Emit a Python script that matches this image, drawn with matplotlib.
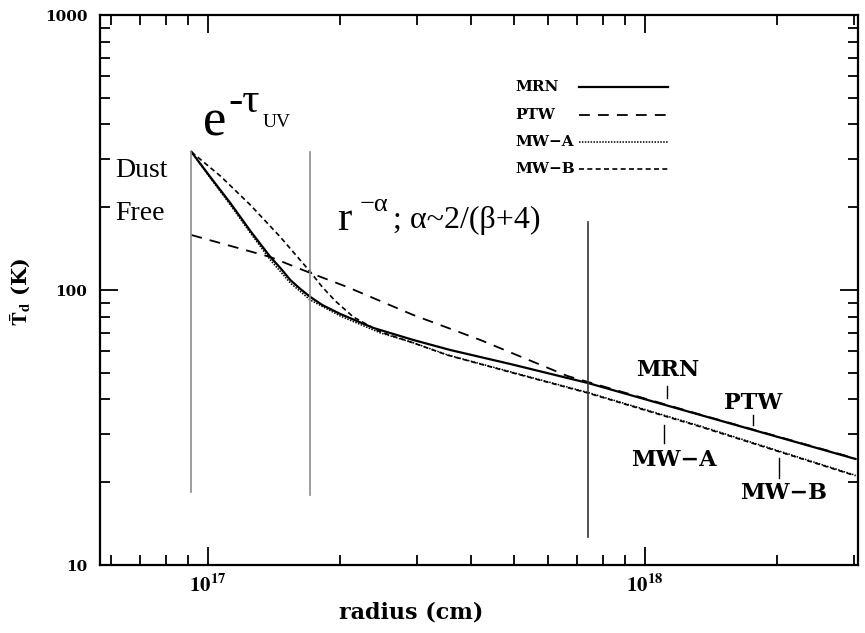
import numpy as np
import matplotlib
matplotlib.use("Agg")
import matplotlib.pyplot as plt
from matplotlib.ticker import LogLocator, NullFormatter, FixedLocator, FixedFormatter

plt.rcParams['mathtext.fontset'] = 'stix'
plt.rcParams['font.family'] = 'DejaVu Serif'

### curves (radius in cm, temperature in K)
r_mrn = [9.16e16, 1.012e17, 1.125e17, 1.25e17, 1.389e17, 1.464e17, 1.543e17, 1.627e17,
         1.715e17, 1.826e17, 2.008e17, 2.389e17, 2.95e17, 3.585e17, 4.92e17,
         7.40e17, 1.34e18, 3.03e18]
t_mrn = [318, 257.6, 207, 163.9, 131.8, 120.2, 108.7, 100.8,
         94.3, 88.2, 81.8, 72.8, 65.8, 60.5, 53.8,
         45.9, 35.1, 24.3]

r_ptw = [9.16e16, 1.389e17, 1.715e17, 2.084e17, 2.95e17, 4.20e17, 6.64e17,
         7.40e17, 1.34e18, 3.03e18]
t_ptw = [158.5, 131.8, 115.3, 102.5, 81.1, 65.8, 48.7, 46.3, 35.2, 24.4]

r_mwa = [9.16e16, 1.012e17, 1.125e17, 1.25e17, 1.389e17, 1.543e17, 1.715e17,
         2.008e17, 2.48e17, 2.95e17, 3.528e17, 4.995e17, 7.40e17, 1.34e18, 3.03e18]
t_mwa = [318, 255.5, 203.7, 161.2, 128.5, 106.0, 91.9,
         80.4, 69.8, 64.3, 58.1, 50.1, 42.4, 32.0, 21.2]

r_mwb = [9.16e16, 1.067e17, 1.25e17, 1.464e17, 1.715e17, 1.826e17, 1.956e17, 2.15e17,
         2.48e17, 2.95e17, 3.528e17, 4.995e17, 7.40e17, 1.34e18, 3.03e18]
t_mwb = [318, 259.8, 203.8, 155.8, 116.3, 102.5, 91.2, 79.8,
         70.4, 64.2, 58.0, 49.9, 42.2, 31.8, 21.1]

# region boundaries
bound_r = [9.16e16, 1.715e17, 7.41e17]
bound_lo = [18.4, 18.0, 12.6]
bound_hi = [318, 318, 177]
bound_col = ['0.55', '0.55', '0.2']

# curve labels at the right: name, text pos, pointer x, pointer y0, y1
lab_names = ['MRN', 'PTW', 'MW\u2212A', 'MW\u2212B']
lab_x = [1.125e18, 1.77e18, 1.162e18, 2.07e18]
lab_y = [51.2, 38.8, 24.1, 18.3]
ptr_x = [1.125e18, 1.77e18, 1.102e18, 2.02e18]
ptr_y0 = [44.8, 35.1, 32.3, 24.5]
ptr_y1 = [40.4, 32.3, 27.8, 20.7]

fig = plt.figure(figsize=(8.65, 6.33), dpi=100)
ax = fig.add_axes([0.1156, 0.1074, 0.8763, 0.8689])

styles = [
    ('MRN', r_mrn, t_mrn, dict(lw=1.6, ls='-')),
    ('PTW', r_ptw, t_ptw, dict(lw=1.3, dashes=(6, 4.5))),
    ('MW\u2212A', r_mwa, t_mwa, dict(lw=1.1, dashes=(1, 0.9))),
    ('MW\u2212B', r_mwb, t_mwb, dict(lw=1.2, dashes=(3, 2))),
]
for name, r, t, kw in styles:
    ax.plot(r, t, color='black', **kw)

for x, lo, hi, c in zip(bound_r, bound_lo, bound_hi, bound_col):
    ax.plot([x, x], [lo, hi], color=c, lw=1.2)

ax.set_xscale('log')
ax.set_yscale('log')
ax.set_xlim(5.66e16, 3.07e18)
ax.set_ylim(10, 1000)

ax.xaxis.set_major_locator(FixedLocator([1e17, 1e18]))
ax.xaxis.set_major_formatter(FixedFormatter([r'$\mathbf{10^{17}}$', r'$\mathbf{10^{18}}$']))
ax.xaxis.set_minor_locator(LogLocator(base=10, subs=np.arange(2, 10)))
ax.xaxis.set_minor_formatter(NullFormatter())
ax.yaxis.set_major_locator(FixedLocator([10, 100, 1000]))
ax.yaxis.set_major_formatter(FixedFormatter(['10', '100', '1000']))
ax.yaxis.set_minor_locator(LogLocator(base=10, subs=np.arange(2, 10)))
ax.yaxis.set_minor_formatter(NullFormatter())

ax.tick_params(which='both', direction='in', top=True, right=True, width=1.3)
ax.tick_params(which='major', length=13)
ax.tick_params(which='minor', length=7)
ax.tick_params(axis='y', which='major', pad=9, labelsize=11)
ax.tick_params(axis='x', which='major', pad=6, labelsize=15)
for lbl in ax.get_yticklabels():
    lbl.set_fontweight('bold')
for s in ax.spines.values():
    s.set_linewidth(1.6)

ax.set_xlabel('radius (cm)', fontsize=16, fontweight='bold', va='center')
ax.xaxis.set_label_coords(0.41, -0.0855)
ax.set_ylabel(r'$\bar{\mathbf{T}}_{\mathbf{d}}$ (K)', fontsize=15, fontweight='bold', va='center')
ax.yaxis.set_label_coords(-0.105, 0.496)

# legend drawn by hand in axes coordinates
leg_y = [0.869, 0.818, 0.769, 0.720]
for (name, r, t, kw), yy in zip(styles, leg_y):
    ax.text(0.5475, yy, name, transform=ax.transAxes, fontsize=11,
            fontweight='bold', va='center', ha='left')
    ax.plot([0.632, 0.749], [yy, yy], transform=ax.transAxes, color='black', **kw)

# curve labels with small pointers
for n, x, y, px, y0, y1 in zip(lab_names, lab_x, lab_y, ptr_x, ptr_y0, ptr_y1):
    ax.text(x, y, n, fontsize=16, fontweight='bold', ha='center', va='center')
    ax.plot([px, px], [y0, y1], color='black', lw=1.0)

# region annotations
serif = 'Liberation Serif'
ax.text(6.14e16, 257.8, 'Dust', fontsize=20, family=serif)
ax.text(6.14e16, 179.7, 'Free', fontsize=20, family=serif)
ax.text(9.75e16, 366, 'e', fontsize=38, family=serif)
ax.text(1.113e17, 443.9, '-\u03c4', fontsize=31, family=serif)
ax.text(1.333e17, 391.5, 'UV', fontsize=14, family=serif)
ax.text(1.977e17, 165.2, 'r', fontsize=31, family=serif)
ax.text(2.219e17, 193.8, '\u2212\u03b1', fontsize=19, family=serif)
ax.text(2.643e17, 168, '; \u03b1~2/(\u03b2+4)', fontsize=23, family=serif)

fig.savefig('out.png', dpi=100)
